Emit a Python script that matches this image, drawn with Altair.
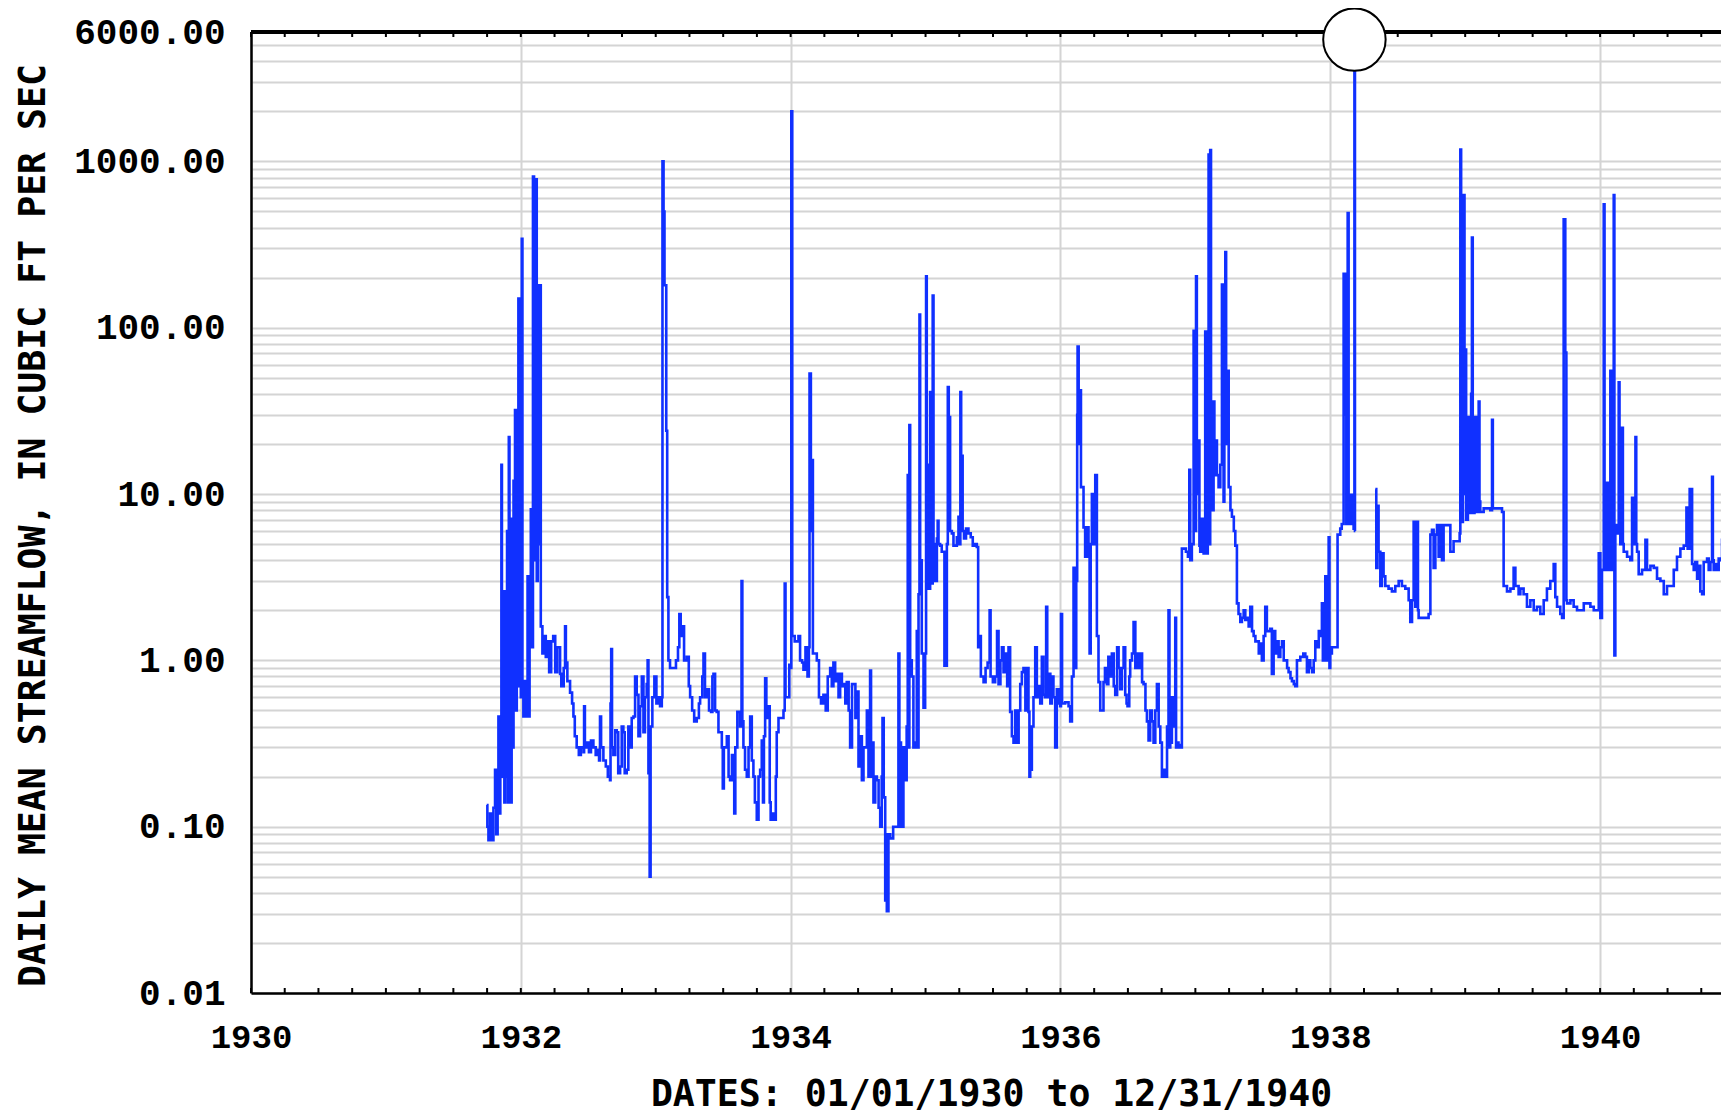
import altair as alt
import pandas as pd

# ---- data (decimal year, daily mean flow in cfs) ----
years = [
    1931.747, 1931.752, 1931.760, 1931.772, 1931.785, 1931.797, 1931.809, 1931.818, 1931.828, 1931.834,
    1931.841, 1931.848, 1931.856, 1931.860, 1931.865, 1931.871, 1931.878, 1931.885, 1931.891, 1931.898,
    1931.905, 1931.911, 1931.916, 1931.922, 1931.928, 1931.932, 1931.940, 1931.946, 1931.952, 1931.957,
    1931.963, 1931.970, 1931.976, 1931.982, 1931.988, 1931.995, 1932.000, 1932.007, 1932.012, 1932.019,
    1932.030, 1932.040, 1932.050, 1932.056, 1932.065, 1932.074, 1932.080, 1932.090, 1932.098, 1932.105,
    1932.110, 1932.118, 1932.125, 1932.135, 1932.142, 1932.148, 1932.160, 1932.175, 1932.185, 1932.200,
    1932.210, 1932.225, 1932.240, 1932.255, 1932.270, 1932.291, 1932.300, 1932.318, 1932.328, 1932.334,
    1932.345, 1932.365, 1932.380, 1932.390, 1932.400, 1932.414, 1932.430, 1932.445, 1932.465, 1932.469,
    1932.475, 1932.488, 1932.505, 1932.520, 1932.538, 1932.555, 1932.563, 1932.580, 1932.587, 1932.595,
    1932.612, 1932.630, 1932.645, 1932.661, 1932.665, 1932.670, 1932.676, 1932.686, 1932.700, 1932.711,
    1932.722, 1932.736, 1932.748, 1932.760, 1932.770, 1932.785, 1932.797, 1932.810, 1932.822, 1932.835,
    1932.847, 1932.859, 1932.872, 1932.884, 1932.897, 1932.909, 1932.920, 1932.933, 1932.940, 1932.946,
    1932.955, 1932.962, 1932.975, 1932.990, 1933.005, 1933.020, 1933.032, 1933.045, 1933.050, 1933.058,
    1933.065, 1933.078, 1933.085, 1933.094, 1933.106, 1933.131, 1933.150, 1933.165, 1933.175, 1933.185,
    1933.198, 1933.210, 1933.230, 1933.245, 1933.255, 1933.270, 1933.285, 1933.304, 1933.320, 1933.329,
    1933.345, 1933.354, 1933.365, 1933.378, 1933.395, 1933.410, 1933.420, 1933.428, 1933.440, 1933.452,
    1933.465, 1933.477, 1933.490, 1933.497, 1933.505, 1933.527, 1933.540, 1933.551, 1933.565, 1933.576,
    1933.582, 1933.590, 1933.605, 1933.625, 1933.636, 1933.642, 1933.650, 1933.662, 1933.675, 1933.688,
    1933.700, 1933.712, 1933.724, 1933.735, 1933.749, 1933.762, 1933.774, 1933.786, 1933.795, 1933.802,
    1933.811, 1933.820, 1933.836, 1933.845, 1933.852, 1933.865, 1933.877, 1933.890, 1933.897, 1933.910,
    1933.922, 1933.935, 1933.947, 1933.956, 1933.962, 1933.975, 1933.990, 1934.000, 1934.005, 1934.012,
    1934.030, 1934.058, 1934.070, 1934.085, 1934.095, 1934.110, 1934.125, 1934.135, 1934.140, 1934.150,
    1934.157, 1934.165, 1934.180, 1934.194, 1934.210, 1934.225, 1934.243, 1934.260, 1934.275, 1934.293,
    1934.305, 1934.317, 1934.330, 1934.342, 1934.355, 1934.367, 1934.380, 1934.392, 1934.405, 1934.416,
    1934.430,
    1934.441, 1934.455, 1934.466, 1934.480, 1934.490, 1934.503, 1934.515, 1934.528, 1934.540, 1934.552,
    1934.565, 1934.577, 1934.589, 1934.596, 1934.602, 1934.614, 1934.627, 1934.639, 1934.652, 1934.664,
    1934.675, 1934.681, 1934.690, 1934.701, 1934.707, 1934.713, 1934.725, 1934.738, 1934.760, 1934.775,
    1934.790, 1934.799, 1934.806, 1934.812, 1934.818, 1934.824, 1934.836, 1934.849, 1934.860, 1934.868,
    1934.874, 1934.880, 1934.886, 1934.898, 1934.910, 1934.923, 1934.935, 1934.942, 1934.948, 1934.955,
    1934.960, 1934.972, 1934.985, 1934.997, 1935.004, 1935.009, 1935.016, 1935.022, 1935.034, 1935.040,
    1935.047, 1935.053, 1935.059, 1935.065, 1935.071, 1935.084, 1935.090, 1935.096, 1935.108, 1935.120,
    1935.133, 1935.140, 1935.152, 1935.158, 1935.165, 1935.172, 1935.182, 1935.195, 1935.207, 1935.220,
    1935.232, 1935.244, 1935.250, 1935.258, 1935.264, 1935.275, 1935.285, 1935.300, 1935.318, 1935.335,
    1935.350, 1935.368, 1935.380, 1935.390, 1935.400, 1935.410, 1935.430, 1935.445, 1935.460, 1935.475,
    1935.482, 1935.499, 1935.516, 1935.530, 1935.541, 1935.555, 1935.566, 1935.578, 1935.590, 1935.605,
    1935.615, 1935.627, 1935.640, 1935.652, 1935.665, 1935.677, 1935.690, 1935.702, 1935.714, 1935.726,
    1935.740, 1935.751, 1935.763, 1935.770, 1935.776, 1935.788, 1935.800, 1935.813, 1935.825, 1935.837,
    1935.850, 1935.862, 1935.874, 1935.885, 1935.894, 1935.902, 1935.912, 1935.925, 1935.936, 1935.948,
    1935.961, 1935.973, 1935.985, 1935.998, 1936.004, 1936.012, 1936.035, 1936.060, 1936.072, 1936.085,
    1936.097, 1936.110, 1936.117, 1936.124, 1936.127, 1936.135, 1936.146, 1936.152, 1936.159, 1936.171,
    1936.183, 1936.196, 1936.208, 1936.216, 1936.224, 1936.233, 1936.245, 1936.258, 1936.270, 1936.282,
    1936.295, 1936.319, 1936.330, 1936.344, 1936.355, 1936.369, 1936.381, 1936.395, 1936.406, 1936.420,
    1936.431, 1936.443, 1936.455, 1936.468, 1936.480, 1936.490, 1936.497, 1936.510, 1936.517, 1936.530,
    1936.542, 1936.555, 1936.566, 1936.580, 1936.591, 1936.605, 1936.616, 1936.630, 1936.641, 1936.653,
    1936.665, 1936.678, 1936.690, 1936.703, 1936.715, 1936.728, 1936.740, 1936.752, 1936.765, 1936.777,
    1936.790, 1936.801, 1936.808, 1936.814, 1936.826, 1936.838, 1936.851, 1936.857, 1936.863, 1936.875,
    1936.888, 1936.896, 1936.900, 1936.913, 1936.930, 1936.945, 1936.955, 1936.962, 1936.974, 1936.987,
    1936.995, 1937.005, 1937.011, 1937.024, 1937.030, 1937.036, 1937.049, 1937.061, 1937.073, 1937.080,
    1937.092, 1937.098, 1937.104, 1937.110, 1937.116, 1937.123, 1937.129, 1937.135, 1937.141, 1937.147,
    1937.160, 1937.172, 1937.185, 1937.197, 1937.209, 1937.215, 1937.222, 1937.228, 1937.234, 1937.247,
    1937.260, 1937.271, 1937.285, 1937.296, 1937.308, 1937.320, 1937.333, 1937.345, 1937.358, 1937.370,
    1937.382, 1937.395, 1937.407, 1937.420, 1937.432, 1937.445, 1937.456, 1937.470,
    1937.481, 1937.493, 1937.506, 1937.518, 1937.530, 1937.555, 1937.567, 1937.580, 1937.592, 1937.605,
    1937.617, 1937.630, 1937.642, 1937.655, 1937.666, 1937.680, 1937.691, 1937.705, 1937.716, 1937.730,
    1937.741, 1937.753, 1937.778, 1937.800, 1937.815, 1937.827, 1937.840, 1937.852, 1937.865, 1937.877,
    1937.889, 1937.901, 1937.915, 1937.926, 1937.938, 1937.945, 1937.951, 1937.963, 1937.970, 1937.975,
    1937.988, 1937.994, 1938.000, 1938.012, 1938.025, 1938.037, 1938.054, 1938.074, 1938.085, 1938.094,
    1938.099, 1938.110, 1938.119, 1938.129, 1938.136, 1938.148, 1938.161, 1938.173, 1938.179, 1938.183,
    1938.186,
    1938.334, 1938.341, 1938.350, 1938.358, 1938.371, 1938.383, 1938.395, 1938.408, 1938.432, 1938.457,
    1938.482, 1938.507, 1938.531, 1938.556, 1938.581, 1938.593, 1938.606, 1938.618, 1938.624, 1938.630,
    1938.643, 1938.650, 1938.655, 1938.680, 1938.704, 1938.729, 1938.742, 1938.754, 1938.766, 1938.779,
    1938.791, 1938.803, 1938.816, 1938.828, 1938.840, 1938.865, 1938.890, 1938.914, 1938.939, 1938.959,
    1938.964, 1938.970, 1938.976, 1938.983, 1938.989, 1938.995, 1939.001, 1939.007, 1939.013, 1939.020,
    1939.026, 1939.032, 1939.038, 1939.044, 1939.050, 1939.056, 1939.063, 1939.069, 1939.075, 1939.081,
    1939.087, 1939.094, 1939.100, 1939.106, 1939.112, 1939.137, 1939.162, 1939.186, 1939.199, 1939.205,
    1939.248, 1939.273, 1939.285, 1939.310, 1939.335, 1939.359, 1939.372, 1939.396, 1939.409, 1939.433,
    1939.458, 1939.483, 1939.508, 1939.532, 1939.557, 1939.582, 1939.606, 1939.631, 1939.656, 1939.668,
    1939.681, 1939.705, 1939.718, 1939.730, 1939.742, 1939.750, 1939.755, 1939.780, 1939.804, 1939.829,
    1939.854, 1939.879, 1939.903, 1939.928, 1939.953, 1939.977, 1939.990, 1940.002, 1940.014, 1940.027,
    1940.033, 1940.039, 1940.052, 1940.058, 1940.064, 1940.076, 1940.082, 1940.089, 1940.101, 1940.106,
    1940.113, 1940.126, 1940.138, 1940.144, 1940.150, 1940.163, 1940.169, 1940.175, 1940.200, 1940.224,
    1940.237, 1940.243, 1940.249, 1940.262, 1940.268, 1940.274, 1940.286, 1940.311, 1940.336, 1940.348,
    1940.373, 1940.398, 1940.422, 1940.447, 1940.472, 1940.496, 1940.521, 1940.546, 1940.570, 1940.595,
    1940.620, 1940.640, 1940.649, 1940.664, 1940.682, 1940.694, 1940.706, 1940.719, 1940.731, 1940.743,
    1940.756, 1940.768, 1940.793, 1940.805, 1940.818, 1940.830, 1940.836, 1940.842, 1940.855, 1940.867,
    1940.879, 1940.892, 1940.904, 1940.917, 1940.929, 1940.941, 1940.954, 1940.960,
]

flow = [
    0.135, 0.10, 0.083, 0.12, 0.083, 0.13, 0.22, 0.09, 0.22, 0.46,
    0.12, 0.46, 15, 1.2, 0.2, 2.6, 0.14, 2.6, 0.2, 6,
    0.14, 22, 0.5, 7.1, 0.14, 7.1, 0.3, 12, 0.8, 32,
    0.5, 10, 0.9, 150, 0.7, 20, 0.6, 343, 0.75, 0.46,
    0.75, 0.46, 3.2, 0.46, 3.2, 8.1, 1.2, 810, 780, 4,
    780, 3, 180, 5, 180, 1.6, 1.1, 1.4, 1.05, 1.3,
    0.85, 1.3, 1.4, 0.85, 1.2, 0.83, 0.7, 0.9, 1.6, 0.97,
    0.75, 0.64, 0.55, 0.46, 0.35, 0.3, 0.27, 0.3, 0.28, 0.53,
    0.3, 0.32, 0.28, 0.33, 0.30, 0.27, 0.29, 0.25, 0.46, 0.3,
    0.25, 0.23, 0.20, 0.19, 0.55, 1.17, 0.3, 0.27, 0.38, 0.37,
    0.21, 0.23, 0.4, 0.37, 0.21, 0.22, 0.4, 0.30, 0.45, 0.46,
    0.8, 0.62, 0.35, 0.53, 0.8, 0.37, 0.6, 0.72, 1.0, 0.21,
    0.05, 0.4, 0.6, 0.8, 0.55, 0.6, 0.53, 0.6, 1000, 500,
    180, 24, 2.4, 1.0, 0.9, 0.9, 1.0, 1.2, 1.9, 1.4,
    1.6, 1.0, 1.05, 0.7, 0.6, 0.5, 0.43, 0.45, 0.55, 0.6,
    0.8, 1.1, 0.6, 0.67, 0.5, 0.49, 0.8, 0.83, 0.5, 0.49,
    0.37, 0.37, 0.3, 0.17, 0.3, 0.35, 0.2, 0.19, 0.27, 0.22,
    0.12, 0.3, 0.49, 0.4, 3.0, 0.43, 0.3, 0.22, 0.2, 0.3,
    0.46, 0.25, 0.2, 0.14, 0.11, 0.2, 0.22, 0.33, 0.14, 0.35,
    0.78, 0.45, 0.53, 0.14, 0.11, 0.12, 0.11, 0.2, 0.37, 0.45,
    0.45, 0.45, 0.5, 2.9, 0.6, 0.6, 0.94, 0.9, 2000, 1.4,
    1.3, 1.4, 1.0, 0.97, 0.88, 1.2, 0.8, 1.2, 53, 6,
    16, 1.1, 1.1, 1.0, 0.6, 0.55, 0.62, 0.5, 0.8, 0.9,
    0.7, 0.97, 0.75, 0.83, 0.6, 0.83, 0.7, 0.72, 0.55, 0.74,
    0.5,
    0.30, 0.72, 0.72, 0.45, 0.65, 0.23, 0.35, 0.19, 0.3, 0.30,
    0.5, 0.2, 0.87, 0.2, 0.32, 0.14, 0.2, 0.19, 0.13, 0.10,
    0.2, 0.45, 0.15, 0.036, 0.09, 0.031, 0.09, 0.085, 0.1, 0.1,
    0.1, 1.1, 0.3, 0.32, 0.1, 0.1, 0.3, 0.19, 0.4, 13,
    0.3, 26, 1.0, 0.8, 0.3, 0.32, 1.5, 0.3, 2.5, 120,
    4, 1.1, 0.52, 1.1, 204, 2.7, 15, 2.7, 41, 3,
    2.9, 156, 5, 4.8, 3.0, 5.4, 6.9, 5, 4.9, 4.5,
    4.5, 0.93, 0.93, 5, 44, 29, 6, 5.8, 4.9, 4.9,
    5.5, 7.3, 5, 41, 17, 6, 5.4, 6.2, 5.8, 5.5,
    4.9, 5.0, 4.8, 1.2, 1.4, 0.8, 0.74, 0.9, 0.97, 2.0,
    0.8, 0.74, 0.8, 1.5, 0.72, 1.0, 1.2, 0.85, 1.1, 0.7,
    1.2, 0.49, 0.35, 0.32, 0.5, 0.32, 0.5, 0.72, 0.85, 0.9,
    0.5, 0.9, 0.49, 0.2, 0.22, 0.4, 0.6, 1.2, 0.6, 0.7,
    0.55, 1.05, 0.62, 0.6, 2.1, 0.6, 0.83, 0.55, 0.8, 0.6,
    0.3, 0.67, 0.55, 0.53, 1.9, 0.55, 0.56, 0.53, 0.43, 0.80,
    3.6, 0.9, 3, 30, 77, 20, 42, 11, 11, 6.3,
    4.2, 6.3, 4.2, 1.1, 5, 10, 5, 13, 1.4, 0.74,
    0.5, 0.74, 0.9, 0.72, 1.05, 0.8, 1.1, 0.7, 0.62, 1.2,
    0.9, 0.67, 0.9, 1.2, 0.62, 0.55, 0.53, 0.8, 1.0, 1.1,
    1.7, 0.9, 1.1, 0.9, 1.1, 0.74, 0.72, 0.5, 0.43, 0.33,
    0.5, 0.43, 0.32, 0.5, 0.72, 0.4, 0.32, 0.20, 0.22, 0.20,
    0.4, 2.0, 0.3, 0.32, 0.6, 0.4, 1.8, 0.3, 0.32, 0.3,
    0.31, 0.3, 4.7, 4.7, 4.5, 4.2, 14, 4.0, 5.0, 96,
    6, 204, 10, 21, 4.9, 4.5, 7.1, 4.4, 95, 4.4,
    8, 1100, 5, 1170, 20, 30, 8, 36, 13, 21,
    13, 11, 15, 182, 9, 180, 285, 20, 55, 11,
    8, 7.3, 6, 4.9, 2.2, 1.9, 1.7, 1.8, 2.0, 1.75,
    1.8, 1.6, 2.1, 1.5, 1.4, 1.3, 1.3, 1.1,
    1.26, 1.0, 1.4, 2.1, 1.5, 1.55, 0.83, 1.5, 1.1, 1.3,
    1.05, 1.2, 1.3, 1.0, 1.0, 0.9, 0.85, 0.78, 0.75, 0.72,
    0.70, 1.0, 1.05, 1.1, 1.05, 0.85, 1.0, 0.9, 0.85, 1.0,
    1.3, 1.2, 1.5, 1.4, 2.2, 1.0, 1.2, 3.2, 1.0, 1.4,
    5.5, 0.9, 1.1, 1.2, 1.2, 1.2, 5.7, 6.2, 6.6, 6.6,
    211, 30, 6.6, 489, 9.9, 6.6, 9.9, 6.2, 5400, 6.0,
    6.0,
    10.7, 3.6, 8.5, 4.5, 2.8, 4.4, 3.2, 2.8, 2.7, 2.6,
    2.8, 3.0, 2.8, 2.7, 2.3, 1.7, 2.3, 6.8, 2.3, 2.1,
    6.8, 2.0, 1.8, 1.8, 1.8, 1.9, 5.7, 6.1, 3.6, 5.7,
    6.5, 4.2, 6.5, 4.0, 6.5, 6.5, 4.5, 5.2, 5.2, 5.8,
    1178, 10, 6.8, 100, 628, 10, 74, 7, 7.0, 15,
    29, 8, 7.7, 40, 349, 8, 7.7, 20, 29, 8,
    7.8, 25, 36, 9, 7.8, 8.2, 8.2, 8.0, 28, 8.2,
    8.2, 7.8, 2.8, 2.6, 2.7, 3.6, 2.8, 2.5, 2.7, 2.5,
    2.1, 2.3, 2.0, 2.1, 1.9, 2.3, 2.7, 3.0, 3.8, 2.4,
    2.1, 1.9, 1.8, 449, 71, 2.3, 2.2, 2.3, 2.1, 2.0,
    2.0, 2.2, 2.2, 2.1, 2.0, 2.0, 4.4, 1.8, 3.5, 553,
    5, 3.5, 11.7, 4, 3.5, 55, 5, 3.5, 628, 1.07,
    6.5, 5.8, 47, 6, 5.0, 25, 5, 4.5, 4.2, 4.0,
    9.5, 5, 5.0, 22, 5, 4.5, 3.3, 3.5, 5.3, 3.5,
    3.7, 3.6, 3.1, 3.0, 2.5, 2.8, 2.8, 3.5, 4.2, 4.7,
    4.9, 8.3, 4.7, 10.7, 3.8, 3.5, 3.9, 3.1, 3.7, 2.6,
    2.5, 3.9, 4.1, 3.5, 3.9, 12.7, 4, 3.5, 3.8, 3.5,
    4.1, 4.0, 5.3, 6.8, 6.3, 5.3, 320, 10,
]

gap_start = 1938.19          # no record between the two parts of 1938
peak_year = [1938.179]
peak_flow = [5400]
x_tick_years = [1930, 1932, 1934, 1936, 1938, 1940]
y_label_values = [0.01, 0.1, 1, 10, 100, 1000, 6000]
x_title = "DATES: 01/01/1930 to 12/31/1940"
y_title = "DAILY MEAN STREAMFLOW, IN CUBIC FT PER SEC"

assert len(years) == len(flow)

# the full 1930-1941 axis would be 1484 px wide; only the part that fits
# in the window (1470 px) is shown, as in the reference
FULL_W, W, H = 1484, 1470, 961
x_end = 1930 + 11 * W / FULL_W
BLUE = "#1030ff"
GRID = "#d4d4d4"
TICK_FONT = "Liberation Mono"
TITLE_FONT = "DejaVu Sans Mono"

df = pd.DataFrame({"year": years, "flow": flow})
df["part"] = (df["year"] > gap_start).astype(int)

# gridline positions: every 1..9 x 10^k between 0.01 and 6000
grid_values = []
for k in range(-2, 4):
    for d in range(1, 10):
        v = round(d * 10.0 ** k, 6)
        if v <= 6000:
            grid_values.append(v)

quarter_ticks = pd.DataFrame({"year": [1930 + q / 4 for q in range(44)]})

label_expr = (
    "indexof([" + ",".join(str(v) for v in y_label_values) + "], datum.value) >= 0"
    " ? format(datum.value, '.2f') : ''"
)

x_scale = alt.Scale(domain=[1930, x_end], nice=False, zero=False)
y_scale = alt.Scale(type="log", domain=[0.01, 6000], nice=False)

x_axis = alt.Axis(
    values=x_tick_years, format="d", grid=True, gridColor=GRID, gridWidth=2,
    ticks=False, domain=True, domainColor="black", domainWidth=2.5,
    labelFont=TICK_FONT, labelFontSize=34,
    labelFontWeight="bold", labelColor="black", labelPadding=27,
    labelFlush=False, labelOverlap=False,
    title=x_title, titleFont=TITLE_FONT, titleFontSize=36.5, titleFontWeight="bold",
    titleColor="black", titleX=740, titleY=112, titleBaseline="alphabetic",
    titleAlign="center", titleAnchor="middle",
)
y_axis = alt.Axis(
    values=grid_values, labelExpr=label_expr, grid=True, gridColor=GRID, gridWidth=2,
    ticks=False, tickSize=0, domain=True, domainColor="black", domainWidth=2.5,
    labelFont=TICK_FONT, labelFontSize=36,
    labelFontWeight="bold", labelColor="black", labelPadding=26,
    labelOverlap=False, labelFlush=False,
    title=y_title, titleFont=TITLE_FONT, titleFontSize=36.5, titleFontWeight="bold",
    titleColor="black", titleAngle=270, titleX=-218, titleY=493,
    titleBaseline="middle", titleAlign="center",
)

X = alt.X("year:Q", scale=x_scale, axis=x_axis)
Y = alt.Y("flow:Q", scale=y_scale, axis=y_axis)

line = alt.Chart(df).mark_line(
    color=BLUE, strokeWidth=2.6, interpolate="step-after", clip=True
).encode(x=X, y=Y, detail="part:N")

top_border = alt.Chart(df).mark_rule(color="black", strokeWidth=2.5).encode(
    x=alt.value(0), x2=alt.value(W), y=alt.value(0)
)

top_ticks = alt.Chart(quarter_ticks).mark_rule(color="black", strokeWidth=2).encode(
    x=X, y=alt.value(0), y2=alt.value(5)
)
bottom_ticks = alt.Chart(quarter_ticks).mark_rule(color="black", strokeWidth=2).encode(
    x=X, y=alt.value(H), y2=alt.value(H - 5)
)

peak = alt.Chart(pd.DataFrame({"year": peak_year, "flow": peak_flow})).mark_point(
    shape="circle", filled=True, fill="white", stroke="black", strokeWidth=2,
    size=3900, opacity=1, clip=False,
).encode(x=X, y=Y)

chart = alt.layer(line, top_border, top_ticks, bottom_ticks, peak).properties(
    width=W,
    height=H,
    padding={"left": 243, "top": 24, "right": 0, "bottom": 120},
    autosize=alt.AutoSizeParams(type="none"),
    background="white",
).configure_view(
    stroke=None
)

chart.save("out.html", embed_options={"renderer": "svg", "actions": False})
